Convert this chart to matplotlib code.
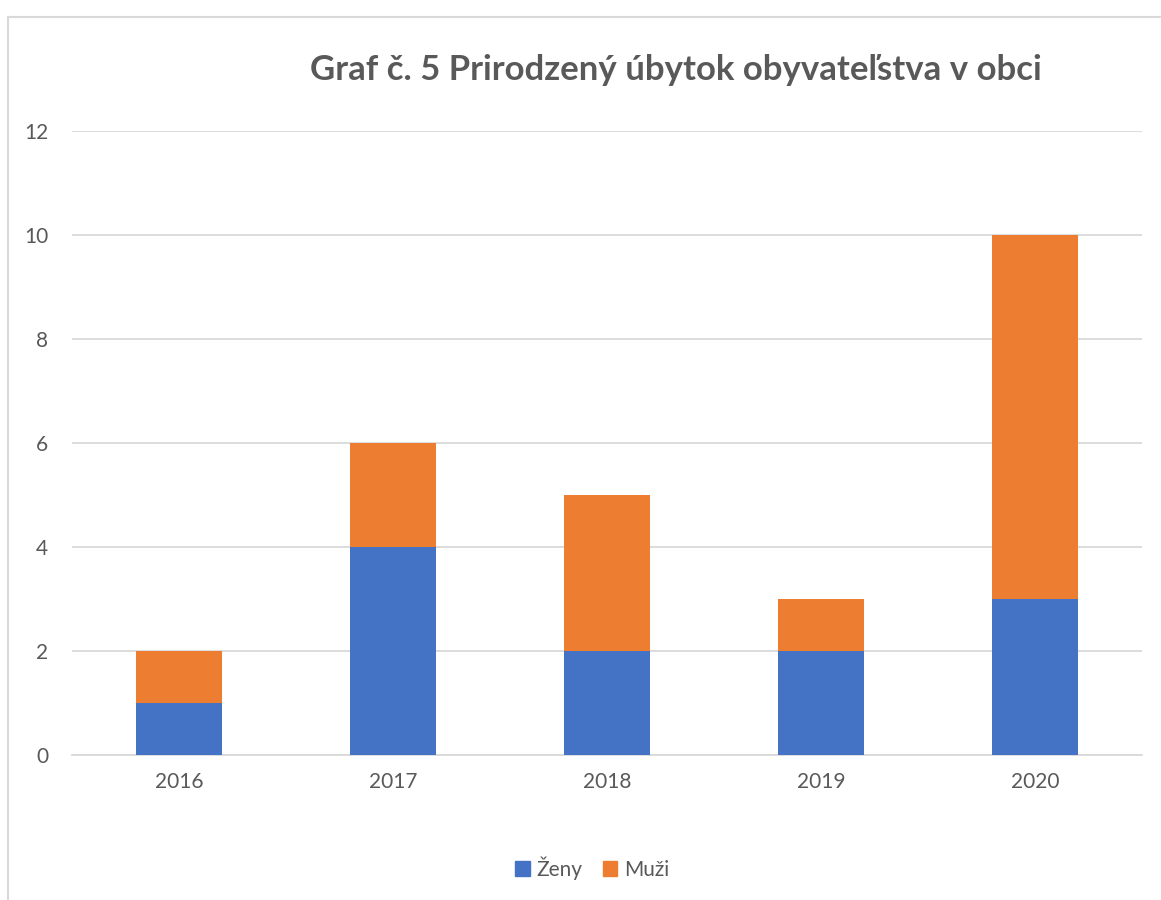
import matplotlib
matplotlib.use("Agg")
import matplotlib.pyplot as plt
from matplotlib.lines import Line2D
from matplotlib.patches import Patch

years = ["2016", "2017", "2018", "2019", "2020"]
zeny = [1, 4, 2, 2, 3]
muzi = [1, 2, 3, 1, 7]
yticks = [0, 2, 4, 6, 8, 10, 12]
title = "Graf č. 5 Prirodzený úbytok obyvateľstva v obci"

plt.rcParams['font.family'] = ['Lato', 'DejaVu Sans']

W, H = 1161, 900
fig = plt.figure(figsize=(W/100, H/100), dpi=100)

# Outer chart border (top and left visible)
fig.add_artist(Line2D([8/W, 1], [1-17/H, 1-17/H], color='#d9d9d9', lw=1.5, transform=fig.transFigure))
fig.add_artist(Line2D([8/W, 8/W], [1-17/H, 0], color='#d9d9d9', lw=1.5, transform=fig.transFigure))

left, right = 72/W, 1142/W
top, bottom = 1-131/H, 1-755/H
ax = fig.add_axes([left, bottom, right-left, top-bottom])

x = range(len(years))
ax.bar(x, zeny, width=0.4, color='#4472c4', label='Ženy', zorder=3)
ax.bar(x, muzi, width=0.4, bottom=zeny, color='#ed7d31', label='Muži', zorder=3)

ax.set_xlim(-0.5, 4.5)
ax.set_ylim(0, 12)
ax.set_yticks(yticks)
ax.set_xticks(list(x))
ax.set_xticklabels(years)
ax.grid(axis='y', color='#d9d9d9', lw=1.3, zorder=0)
for s in ['top', 'right', 'left']:
    ax.spines[s].set_visible(False)
ax.spines['bottom'].set_color('#d9d9d9')
ax.spines['bottom'].set_linewidth(1.3)
ax.tick_params(axis='both', length=0, colors='#595959', labelsize=15)
ax.tick_params(axis='y', pad=17)
ax.tick_params(axis='x', pad=12)

fig.text(676/W, 1-70/H, title, ha='center', va='center', fontsize=25,
         fontweight='bold', color='#595959')

handles = [Patch(color='#4472c4', label='Ženy'), Patch(color='#ed7d31', label='Muži')]
fig.legend(handles=handles, loc='center', bbox_to_anchor=(592/W, 1-868/H), ncol=2,
           frameon=False, fontsize=15, handlelength=0.7, handleheight=0.7,
           handletextpad=0.3, columnspacing=1.0, labelcolor='#595959')

fig.savefig('out.png', dpi=100)
